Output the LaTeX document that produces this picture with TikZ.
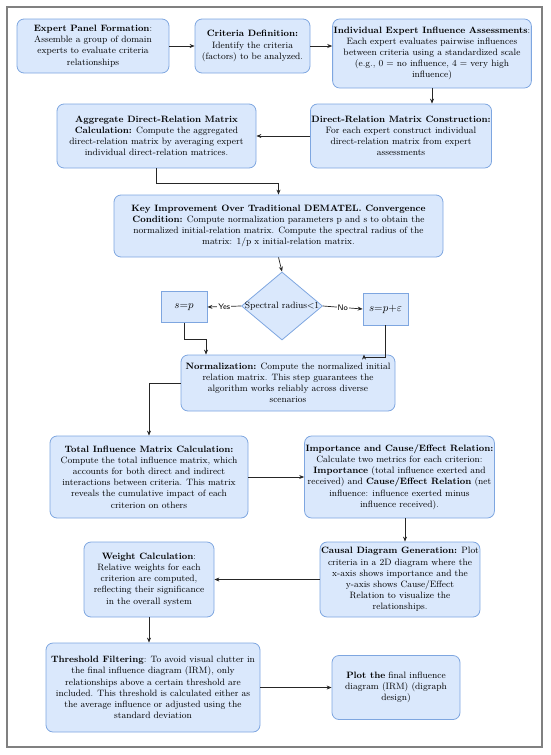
\documentclass[tikz,border=0pt]{standalone}
\usepackage{amsmath}
\usetikzlibrary{shapes.geometric,arrows.meta}
\begin{document}
\begin{tikzpicture}[x=1pt,y=-1pt,
  box/.style={draw=boxline, fill=boxfill, line width=0.8pt, rounded corners=7pt, align=center,
    inner sep=1pt, font=\fontsize{9.2}{11.2}\selectfont},
  sqbox/.style={draw=boxline, fill=boxfill, line width=0.8pt, inner sep=1pt, font=\fontsize{10.5}{12}\selectfont},
  arr/.style={draw=black!85, line width=0.7pt, -{Stealth[length=5pt,width=4pt]}},
  lab/.style={fill=white, inner sep=1pt, font=\sffamily\fontsize{8}{9}\selectfont}]
\definecolor{boxfill}{HTML}{DAE8FC}
\definecolor{boxline}{HTML}{7EA6E0}
\useasboundingbox (0,0) rectangle (550,755);
\draw[gray, line width=1.4pt] (7,7) rectangle (542,747);

\node[box, minimum width=152pt, minimum height=54pt] (n1) at (93,46)
  {\textbf{Expert Panel Formation}:\\Assemble a group of domain\\experts to evaluate criteria\\relationships};
\node[box, minimum width=115pt, minimum height=54pt] (n2) at (252.5,46)
  {\textbf{Criteria Definition:}\\Identify the criteria\\(factors) to be analyzed.};
\node[box, minimum width=190pt, minimum height=69pt] (n3) at (432,53.5)
  {\textbf{Individual Expert Influence Assessments}:\\Each expert evaluates pairwise influences\\between criteria using a standardized scale\\(e.g., 0 = no influence, 4 = very high\\influence)};
\node[box, minimum width=178pt, minimum height=64pt] (n4) at (401,136)
  {\textbf{Direct-Relation Matrix Construction:}\\For each expert construct individual\\direct-relation matrix from expert\\assessments};
\node[box, minimum width=199pt, minimum height=64pt] (n5) at (156.5,136)
  {\textbf{Aggregate Direct-Relation Matrix}\\\textbf{Calculation:} Compute the aggregated\\direct-relation matrix by averaging expert\\individual direct-relation matrices.};
\node[box, minimum width=329pt, minimum height=62pt] (n6) at (278.5,226)
  {\textbf{Key Improvement Over Traditional DEMATEL. Convergence}\\\textbf{Condition:} Compute normalization parameters p and s to obtain the\\normalized initial-relation matrix. Compute the spectral radius of the\\matrix: 1/p x initial-relation matrix.};
\node[diamond, draw=boxline, fill=boxfill, line width=0.8pt, minimum width=81pt, minimum height=68pt, inner sep=0pt,
  label={[font=\fontsize{9.2}{11}\selectfont]center:Spectral radius<1}] (dia) at (282,306) {};
\node[sqbox, minimum width=46pt, minimum height=31pt] (sp) at (184,307) {$s{=}p$};
\node[sqbox, minimum width=45pt, minimum height=32pt] (spe) at (385.5,309) {$s{=}p{+}\varepsilon$};
\node[box, minimum width=214pt, minimum height=56pt] (norm) at (288,383)
  {\textbf{Normalization:} Compute the normalized initial\\relation matrix. This step guarantees the\\algorithm works reliably across diverse\\scenarios};
\node[box, minimum width=198pt, minimum height=82pt] (tot) at (149,477)
  {\textbf{Total Influence Matrix Calculation:}\\Compute the total influence matrix, which\\accounts for both direct and indirect\\interactions between criteria. This matrix\\reveals the cumulative impact of each\\criterion on others};
\node[box, minimum width=183pt, minimum height=82pt] (imp) at (399.5,477)
  {\textbf{Importance and Cause/Effect Relation:}\\Calculate two metrics for each criterion:\\\textbf{Importance} (total influence exerted and\\received) and \textbf{Cause/Effect Relation} (net\\influence: influence exerted minus\\influence received).};
\node[box, minimum width=154pt, minimum height=75pt] (cau) at (400,579.5)
  {\textbf{Causal Diagram Generation:} Plot\\criteria in a 2D diagram where the\\x-axis shows importance and the\\y-axis shows Cause/Effect\\Relation to visualize the\\relationships.};
\node[box, minimum width=130pt, minimum height=75pt] (wt) at (149,579.5)
  {\textbf{Weight Calculation}:\\Relative weights for each\\criterion are computed,\\reflecting their significance\\in the overall system};
\node[box, minimum width=214pt, minimum height=89pt] (thr) at (153,687.5)
  {\textbf{Threshold Filtering}: To avoid visual clutter in\\the final influence diagram (IRM), only\\relationships above a certain threshold are\\included. This threshold is calculated either as\\the average influence or adjusted using the\\standard deviation};
\node[box, minimum width=128pt, minimum height=64pt] (plot) at (396,687.5)
  {\textbf{Plot the} final influence\\diagram (IRM) (digraph\\design)};

\coordinate (j1) at (0,183.5);
\coordinate (j2) at (0,339);
\coordinate (j3) at (206,0);
\coordinate (j4) at (364,0);
\coordinate (j5) at (405,0);

\draw[arr] (n1.east) -- (n2.west);
\draw[arr] (n2.east) -- (n2.east -| n3.west);
\draw[arr] (n3.south) -- (n3.south |- n4.north);
\draw[arr] (n4.west) -- (n4.west -| n5.east);
\draw[arr] (n5.south) -- (n5.south |- j1) -| (n6.north);
\draw[arr] (n6.south) -- (dia.north);
\draw[arr] (dia.west) -- node[lab]{Yes} (sp.east);
\draw[arr] (dia.east) -- node[lab]{No} (spe.west);
\draw[arr] (sp.south) -- (sp.south |- j2) -| (j3 |- norm.north);
\draw[arr] (spe.south) -- ++(0,32) -| (j4 |- norm.north);
\draw[arr] (norm.west) -| (tot.north);
\draw[arr] (tot.east) -- (tot.east -| imp.west);
\draw[arr] (j5 |- imp.south) -- (j5 |- cau.north);
\draw[arr] (cau.west) -- (cau.west -| wt.east);
\draw[arr] (wt.south) -- (wt.south |- thr.north);
\draw[arr] (thr.east) -- (thr.east -| plot.west);
\end{tikzpicture}
\end{document}
